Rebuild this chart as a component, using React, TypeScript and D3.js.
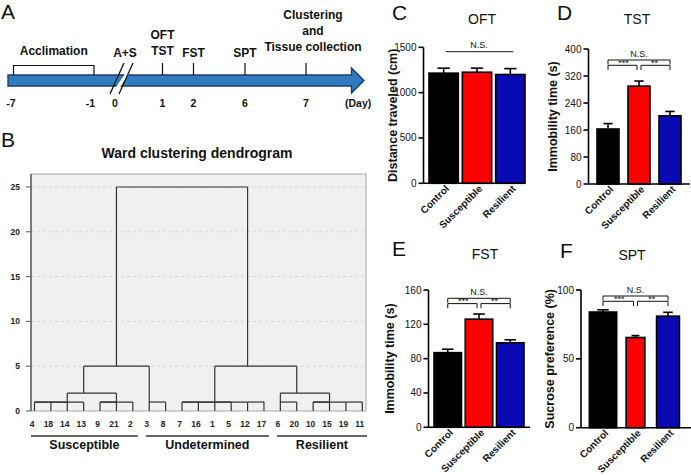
import * as d3 from "d3";

const FONT = "'Liberation Sans', Arial, Helvetica, sans-serif";

// ---------- A: timeline (schematic spacing, not to scale)
const days = [-7, -1, 0, 1, 2, 6, 7];
const dayX = [11, 90.5, 115, 162.5, 193.5, 245, 306];
const markerDays = [1, 2, 6, 7];
const eventDays = [0, 1, 2, 6, 7];
const eventLines = [["A+S"], ["OFT", "TST"], ["FST"], ["SPT"], ["Clustering", "and", "Tissue collection"]];

// ---------- B: Ward dendrogram
const leafIds = [4, 18, 14, 13, 9, 21, 2, 3, 8, 7, 16, 1, 5, 12, 17, 6, 20, 10, 15, 19, 11];
// [left, right, height]; ids < 21 are leaf positions, 21 + i is merge i
const merges: [number, number, number][] = [
  [0, 1, 1], [21, 2, 1], [22, 3, 1], [4, 5, 1], [24, 6, 1], [23, 25, 2],
  [7, 8, 1], [26, 27, 5],
  [9, 10, 1], [11, 12, 1], [13, 14, 1], [29, 30, 1], [32, 31, 1],
  [15, 16, 1], [17, 18, 1], [19, 20, 1], [35, 36, 1], [34, 37, 2], [33, 38, 5],
  [28, 39, 25],
];
const dendroTicks = [0, 5, 10, 15, 20, 25];
const clusterNames = ["Susceptible", "Undetermined", "Resilient"];
const clusterFirst = [0, 7, 15];
const clusterLast = [6, 14, 20];

// ---------- C-F: behaviour tests
const conditions = ["Control", "Susceptible", "Resilient"];
const barColors = ["#000000", "#ff0000", "#0a0ab4"];

const oftMean = [1215, 1225, 1200];
const oftSem = [55, 45, 65];
const tstMean = [163, 290, 202];
const tstSem = [16, 15, 13];
const fstMean = [87, 126, 98.5];
const fstSem = [4, 6, 3.5];
const sptMean = [84, 65.5, 81];
const sptSem = [1.6, 1.4, 2.8];

const panels = [
  { letter: "C", title: "OFT", yTitle: "Distance traveled (cm)", mean: oftMean, sem: oftSem, max: 1500, ticks: [0, 500, 1000, 1500],
    axisX: 423.5, xEnd: 525, barRange: [429, 525], pad: 0.12, widths: [1, 1, 1], top: 47.3, bottom: 183.3,
    letterPos: [392, 20], titlePos: [482, 23.5], yTitleX: 397, sig: "ns", sigOff: 4.4 },
  { letter: "D", title: "TST", yTitle: "Immobility time (s)", mean: tstMean, sem: tstSem, max: 400, ticks: [0, 80, 160, 240, 320, 400],
    axisX: 588.5, xEnd: 690, barRange: [597, 681], pad: 0.29, widths: [1, 1, 1], top: 49, bottom: 184,
    letterPos: [557, 20], titlePos: [637, 23.5], yTitleX: 557, sig: "full", sigOff: 11 },
  { letter: "E", title: "FST", yTitle: "Immobility time (s)", mean: fstMean, sem: fstSem, max: 160, ticks: [0, 40, 80, 120, 160],
    axisX: 428.5, xEnd: 530, barRange: [434, 524], pad: 0.12, widths: [1, 1, 1], top: 290, bottom: 427.3,
    letterPos: [392, 256], titlePos: [485, 259], yTitleX: 394, sig: "full", sigOff: 8.3 },
  { letter: "F", title: "SPT", yTitle: "Sucrose preference (%)", mean: sptMean, sem: sptSem, max: 100, ticks: [0, 50, 100],
    axisX: 581, xEnd: 691, barRange: [590, 681], pad: 0.2, widths: [1.05, 0.72, 0.88], top: 290, bottom: 427.7,
    letterPos: [560, 258], titlePos: [632, 260], yTitleX: 554, sig: "full", sigOff: 6 },
];

function Timeline() {
  const x = d3.scaleLinear().domain(days).range(dayX);
  const barTop = 75, barBot = 86, mid = (barTop + barBot) / 2;
  const tipX = 364, headX = 351.5;
  const arrow = d3.path();
  arrow.moveTo(8, barTop);
  arrow.lineTo(headX, barTop);
  arrow.lineTo(headX, 68);
  arrow.lineTo(tipX, mid);
  arrow.lineTo(headX, 93);
  arrow.lineTo(headX, barBot);
  arrow.lineTo(8, barBot);
  arrow.closePath();
  const brk = x(0) + 6;
  const lblStyle = { fontFamily: FONT, fontWeight: 700, fontSize: 12, fill: "#111" };
  return (
    <g>
      <text x={1} y={18.5} style={{ fontFamily: FONT, fontSize: 21, fill: "#111" }}>A</text>
      <path d={arrow.toString()} fill="#2f7cc0" stroke="#1d3f66" strokeWidth={1.4} />
      {/* axis break */}
      <polygon points={`${brk - 5},${barBot + 1} ${brk + 4},${barTop - 1} ${brk + 8},${barTop - 1} ${brk - 1},${barBot + 1}`} fill="#fff" />
      <line x1={brk - 11} y1={94} x2={brk + 3} y2={63} stroke="#111" strokeWidth={1.3} />
      <line x1={brk - 2} y1={94} x2={brk + 12} y2={63} stroke="#111" strokeWidth={1.3} />
      {/* acclimation bracket */}
      <path d={`M${x(-7) + 2.5},${barTop} V65.5 H${x(-1) + 3.5} V${barTop}`} fill="none" stroke="#111" strokeWidth={1.2} />
      <text x={(x(-7) + x(-1)) / 2 + 3} y={55} textAnchor="middle" style={lblStyle}>Acclimation</text>
      {markerDays.map((d) => (
        <line key={d} x1={x(d)} x2={x(d)} y1={63} y2={barTop} stroke="#111" strokeWidth={1.2} />
      ))}
      {eventDays.map((d, i) => {
        const lines = eventLines[i];
        const bottom = d === 7 ? 51 : d === 1 ? 55 : 56.5;
        const cx = x(d) + (d === 0 ? 10 : d === 7 ? 7 : 0);
        return lines.map((t, j) => (
          <text key={`${d}-${j}`} x={cx} y={bottom - (lines.length - 1 - j) * 16} textAnchor="middle" style={lblStyle}>{t}</text>
        ));
      })}
      {days.map((d) => (
        <text key={d} x={x(d)} y={107} textAnchor="middle" style={{ ...lblStyle, fontSize: 10.5 }}>{d}</text>
      ))}
      <text x={345} y={107} style={{ ...lblStyle, fontSize: 10.5 }}>(Day)</text>
    </g>
  );
}

function Dendrogram() {
  const left = 31, right = 366, top = 174, bottom = 411;
  const x = d3.scalePoint<number>().domain(d3.range(leafIds.length)).range([34.5, 362.3]);
  const y = d3.scaleLinear().domain([0, 25]).range([bottom, 187]);
  const n = leafIds.length;
  const pos: number[] = d3.range(n);
  const hgt: number[] = d3.range(n).map(() => 0);
  const segs: [number, number, number, number][] = [];
  merges.forEach(([a, b, h]) => {
    const xa = x(pos[a])!, xb = x(pos[b])!;
    segs.push([xa, y(hgt[a]), xa, y(h)]);
    segs.push([xb, y(hgt[b]), xb, y(h)]);
    segs.push([xa, y(h), xb, y(h)]);
    pos.push(Math.floor((pos[a] + pos[b]) / 2));
    hgt.push(h);
  });
  const small = { fontFamily: FONT, fontWeight: 700, fontSize: 8.5, fill: "#222" };
  return (
    <g>
      <text x={1} y={147} style={{ fontFamily: FONT, fontSize: 21, fill: "#111" }}>B</text>
      <text x={197} y={158} textAnchor="middle" style={{ fontFamily: FONT, fontWeight: 700, fontSize: 14, fill: "#111" }}>
        Ward clustering dendrogram
      </text>
      <rect x={left} y={top} width={right - left} height={bottom - top} fill="#f0f0f0" stroke="#a8a8a8" strokeWidth={1} />
      {dendroTicks.filter((t) => t > 0).map((t) => (
        <line key={t} x1={left} x2={right} y1={y(t)} y2={y(t)} stroke="#d6d6d6" strokeDasharray="3,3" />
      ))}
      <line x1={left} x2={left} y1={top} y2={bottom} stroke="#444" strokeWidth={1.2} />
      {dendroTicks.map((t) => (
        <g key={t}>
          <line x1={left - 5} x2={left} y1={y(t)} y2={y(t)} stroke="#555" />
          <text x={20} y={y(t)} dy="0.35em" textAnchor="end" style={small}>{t}</text>
        </g>
      ))}
      {segs.map((s, i) => (
        <line key={i} x1={s[0]} y1={s[1]} x2={s[2]} y2={s[3]} stroke="#333" strokeWidth={1.2} />
      ))}
      {leafIds.map((id, i) => (
        <text key={id} x={x(i)! - 2.5} y={426.5} textAnchor="middle" style={small}>{id}</text>
      ))}
      {clusterNames.map((name, i) => {
        const x1 = x(clusterFirst[i])! - 3.5;
        const x2 = Math.min(x(clusterLast[i])! + 5, 367);
        return (
          <g key={name}>
            <line x1={x1} x2={x2} y1={436} y2={436} stroke="#333" strokeWidth={1.5} />
            <text x={(x1 + x2) / 2} y={449} textAnchor="middle" style={{ fontFamily: FONT, fontWeight: 700, fontSize: 12.5, fill: "#111" }}>{name}</text>
          </g>
        );
      })}
    </g>
  );
}

function BarPanel({ p }: { p: (typeof panels)[number] }) {
  const y = d3.scaleLinear().domain([0, p.max]).range([p.bottom, p.top]);
  const x = d3.scaleBand().domain(conditions).range(p.barRange as [number, number]).paddingInner(p.pad);
  const bw = x.bandwidth();
  const cx = (i: number) => x(conditions[i])! + bw / 2;
  const txt = { fontFamily: FONT, fill: "#111" };
  const sw = 1.6;
  const o = p.top + p.sigOff;
  return (
    <g>
      <text x={p.letterPos[0]} y={p.letterPos[1]} style={{ ...txt, fontSize: 21 }}>{p.letter}</text>
      <text x={p.titlePos[0]} y={p.titlePos[1]} textAnchor="middle" style={{ ...txt, fontSize: 14 }}>{p.title}</text>
      <text transform={`translate(${p.yTitleX},${(p.top + p.bottom) / 2}) rotate(-90)`} textAnchor="middle"
        style={{ ...txt, fontSize: 12.5, fontWeight: 700 }}>{p.yTitle}</text>
      {p.mean.map((m, i) => {
        const w = bw * p.widths[i];
        const e = y(m + p.sem[i]);
        const capW = w * 0.42;
        return (
          <g key={i}>
            <line x1={cx(i)} x2={cx(i)} y1={y(m)} y2={e} stroke="#000" strokeWidth={sw} />
            <line x1={cx(i) - capW / 2} x2={cx(i) + capW / 2} y1={e} y2={e} stroke="#000" strokeWidth={sw} />
            <rect x={cx(i) - w / 2} y={y(m)} width={w} height={y(0) - y(m)} fill={barColors[i]} stroke="#000" strokeWidth={sw} />
          </g>
        );
      })}
      <line x1={p.axisX} x2={p.axisX} y1={p.top} y2={p.bottom} stroke="#000" strokeWidth={sw} />
      <line x1={p.axisX} x2={p.xEnd} y1={p.bottom} y2={p.bottom} stroke="#000" strokeWidth={sw} />
      {p.ticks.map((t) => (
        <g key={t}>
          <line x1={p.axisX - 5} x2={p.axisX} y1={y(t)} y2={y(t)} stroke="#000" strokeWidth={sw} />
          <text x={p.axisX - 7} y={y(t)} dy="0.35em" textAnchor="end" style={{ ...txt, fontSize: 10 }}>{t}</text>
        </g>
      ))}
      {conditions.map((c, i) => (
        <text key={c} transform={`translate(${cx(i) + 6},${p.bottom + 6}) rotate(-45)`} textAnchor="end"
          style={{ ...txt, fontSize: 10, fontWeight: 700 }}>{c}</text>
      ))}
      {p.sig === "ns" ? (
        <g>
          <line x1={cx(0) + 2} x2={cx(2) + 3} y1={o} y2={o} stroke="#111" strokeWidth={1} />
          <text x={(cx(0) + cx(2)) / 2 + 2} y={o - 3.4} textAnchor="middle" style={{ ...txt, fontSize: 9 }}>N.S.</text>
        </g>
      ) : (
        <g fill="none" stroke="#111" strokeWidth={1}>
          <path d={`M${cx(0)},${o + 4.5} V${o} H${cx(2)} V${o + 4.5}`} />
          <path d={`M${cx(0)},${o + 10} V${o + 5.3} H${cx(1) - 2} V${o + 10}`} />
          <path d={`M${cx(1) + 2},${o + 10} V${o + 5.3} H${cx(2)} V${o + 10}`} />
          <text x={(cx(0) + cx(2)) / 2} y={o - 3} textAnchor="middle" stroke="none" fill="#111" style={{ fontFamily: FONT, fontSize: 9 }}>N.S.</text>
          <text x={(cx(0) + cx(1)) / 2} y={o + 6} textAnchor="middle" stroke="none" fill="#111" style={{ fontFamily: FONT, fontSize: 9 }}>***</text>
          <text x={(cx(1) + cx(2)) / 2} y={o + 6} textAnchor="middle" stroke="none" fill="#111" style={{ fontFamily: FONT, fontSize: 9 }}>**</text>
        </g>
      )}
    </g>
  );
}

export default function App() {
  return (
    <div style={{ position: "absolute", left: 0, top: 0 }}>
      <svg width={691} height={475} style={{ display: "block", background: "#fff" }}>
        <Timeline />
        <Dendrogram />
        {panels.map((p) => (
          <BarPanel key={p.letter} p={p} />
        ))}
      </svg>
    </div>
  );
}
